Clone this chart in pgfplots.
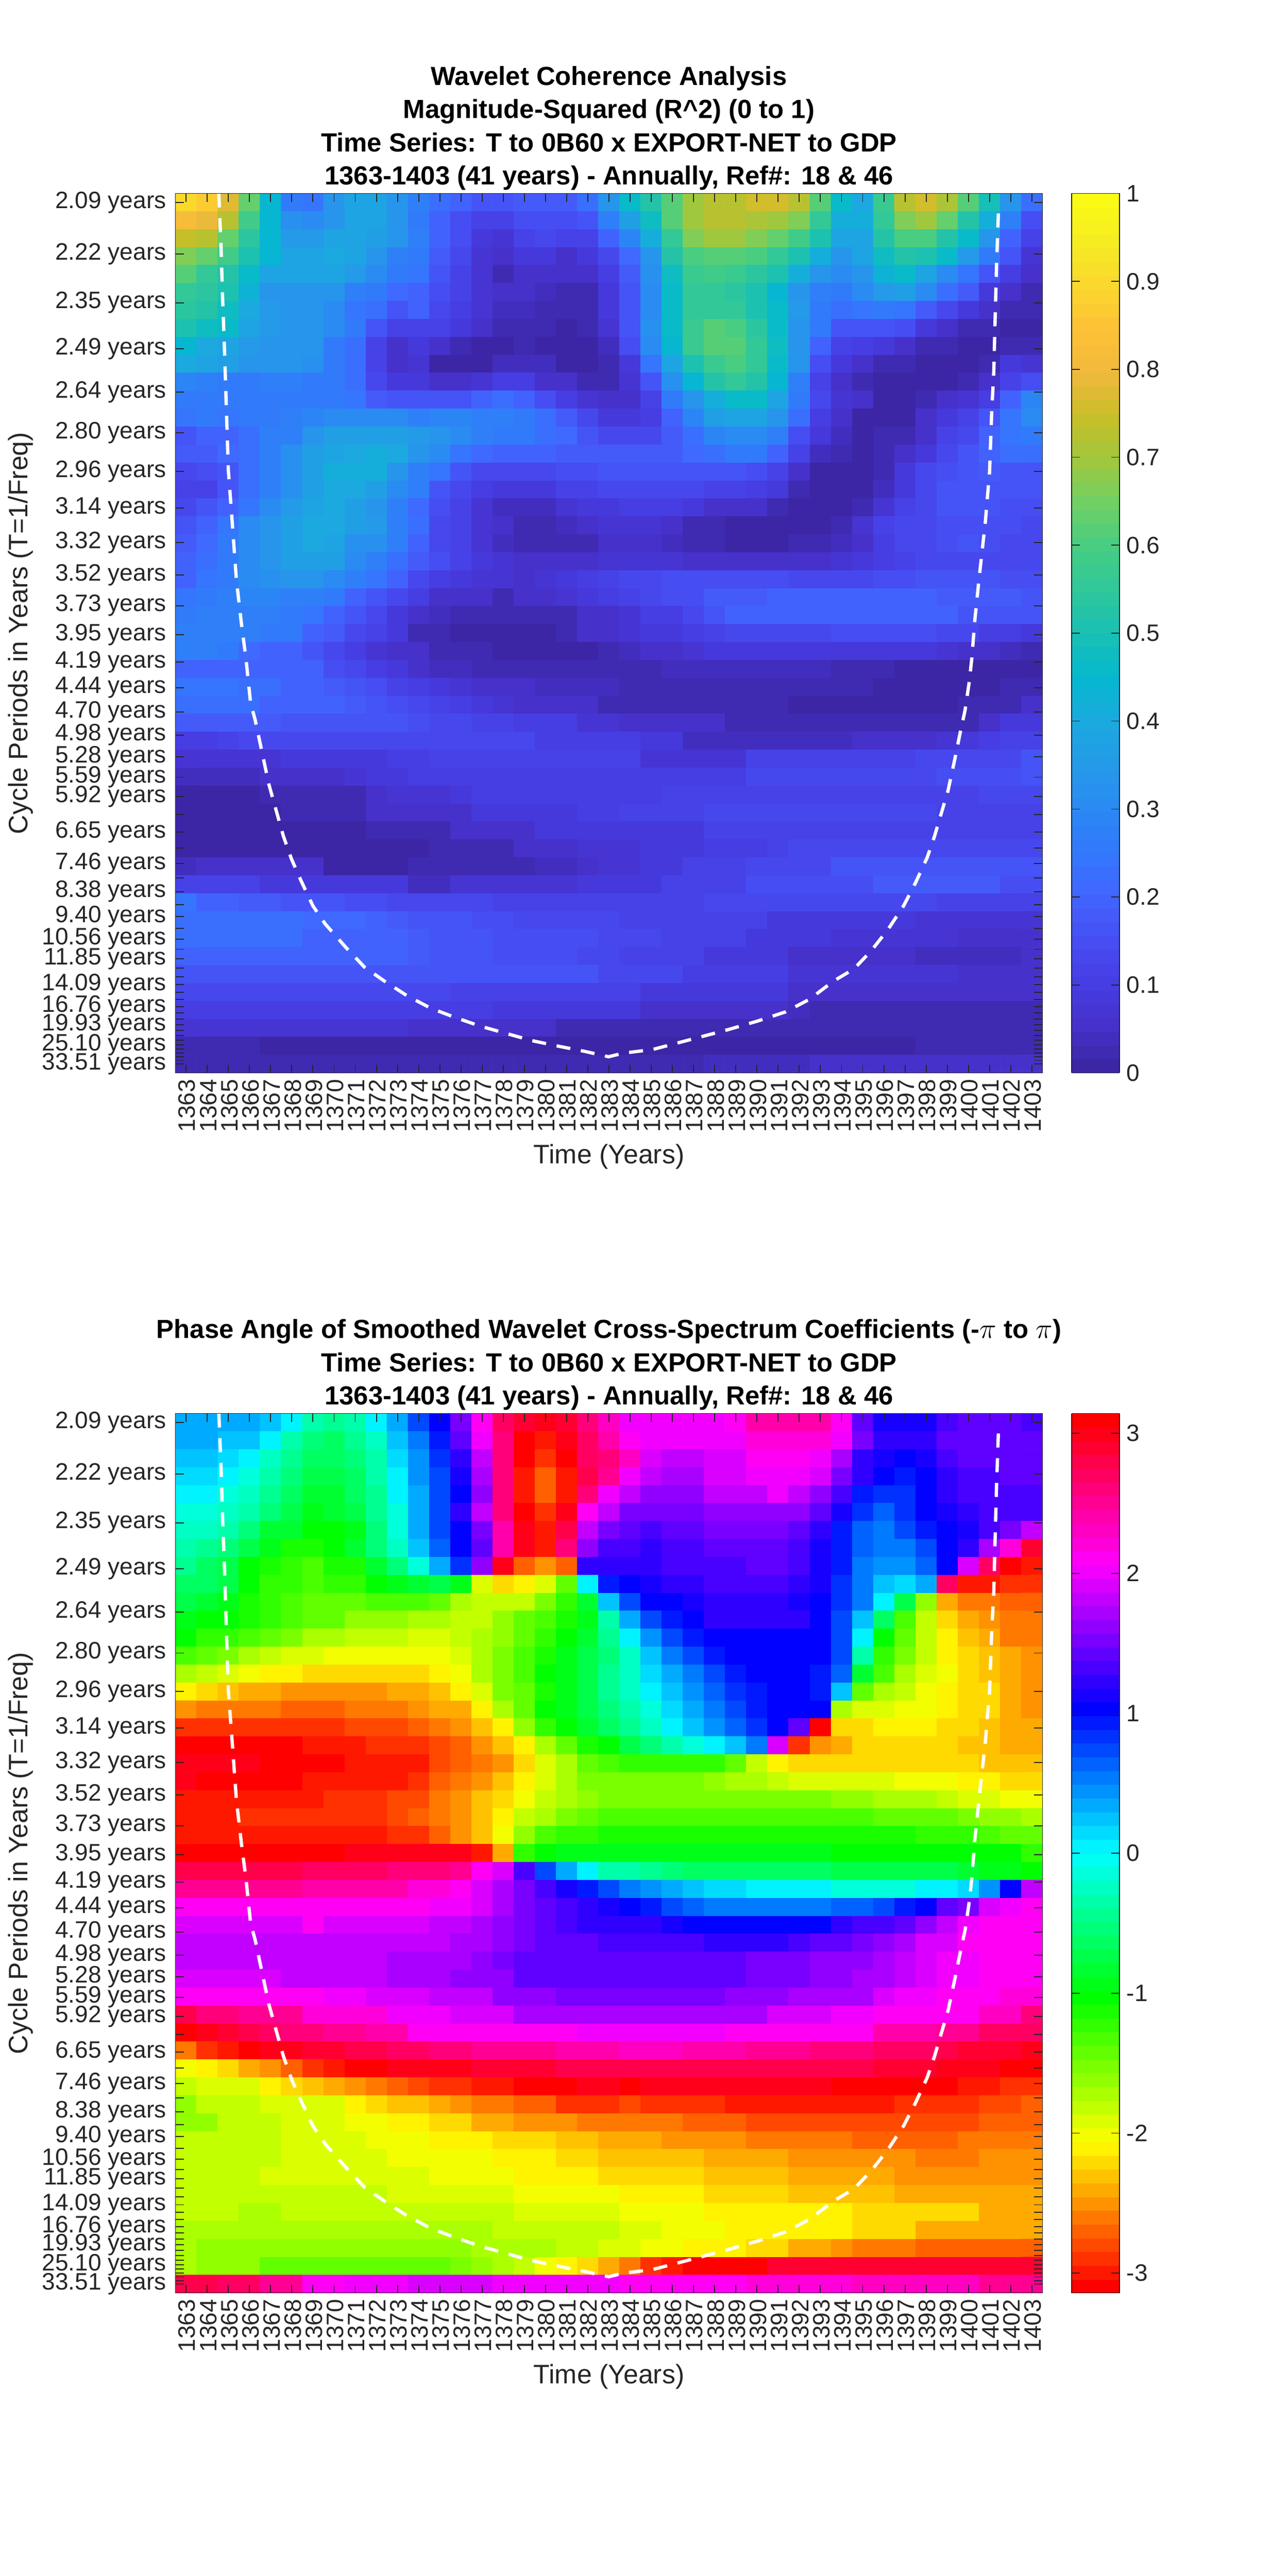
\documentclass[border=0pt]{standalone}
\usepackage{fontspec}
\setmainfont{Liberation Sans}
\usepackage{pgfplots}
\pgfplotsset{compat=1.18}
\newcount\rowno \newcount\colno
\gdef\coordlist{}
\newcommand\maprow[1]{%
  \global\colno=0 %
  \foreach \v in {#1} {%
    \ifnum\colno<41 %
      \xdef\coordlist{\coordlist (\the\colno,\the\rowno)[\mapprefix\v]}%
      \xdef\lastv{\v}%
      \global\advance\colno by 1 %
    \fi
  }%
  \loop\ifnum\colno<41 %
    \xdef\coordlist{\coordlist (\the\colno,\the\rowno)[\mapprefix\lastv]}%
    \global\advance\colno by 1 %
  \repeat
  \global\advance\rowno by 1 %
}
\def\mapprefix{0}
\global\rowno=0
\maprow{.90,.87,.77,.64,.44,.26,.24,.33,.38,.38,.34,.28,.22,.19,.17,.17,.18,.18,.18,.23,.34,.46,.53,.61,.70,.73,.73,.75,.75,.73,.62,.46,.40,.57,.73,.75,.71,.61,.49,.33,.22}
\maprow{.82,.79,.72,.59,.45,.32,.30,.33,.39,.39,.34,.26,.20,.15,.12,.12,.15,.15,.15,.16,.27,.37,.48,.62,.70,.72,.72,.71,.70,.66,.56,.42,.41,.56,.66,.69,.63,.53,.41,.28,.15}
\maprow{.74,.72,.64,.54,.45,.35,.35,.38,.39,.37,.33,.27,.20,.15,.09,.07,.11,.13,.11,.12,.20,.29,.41,.56,.66,.70,.70,.66,.63,.58,.50,.39,.39,.53,.60,.60,.53,.46,.33,.20,.12}
\maprow{.66,.64,.58,.50,.44,.38,.39,.40,.38,.33,.28,.26,.18,.14,.07,.05,.08,.09,.06,.08,.14,.21,.34,.52,.60,.62,.62,.60,.55,.51,.41,.34,.39,.48,.53,.50,.46,.35,.26,.16,.07}
\maprow{.61,.56,.53,.46,.39,.38,.38,.38,.35,.30,.26,.24,.16,.12,.07,.03,.05,.05,.05,.05,.10,.18,.32,.47,.57,.59,.57,.54,.50,.41,.34,.30,.33,.43,.46,.38,.31,.24,.16,.10,.05}
\maprow{.55,.54,.50,.43,.34,.34,.34,.33,.28,.25,.21,.20,.15,.11,.07,.05,.05,.04,.02,.03,.08,.17,.31,.46,.55,.55,.54,.50,.45,.34,.27,.25,.30,.35,.36,.31,.22,.18,.09,.05,.03}
\maprow{.54,.52,.47,.40,.35,.34,.34,.31,.24,.22,.17,.19,.14,.10,.07,.04,.04,.03,.02,.03,.08,.17,.31,.46,.55,.56,.55,.51,.46,.35,.25,.22,.24,.26,.24,.18,.14,.08,.05,.03,.02}
\maprow{.50,.47,.46,.38,.35,.34,.34,.30,.25,.17,.12,.12,.11,.09,.05,.03,.03,.02,.01,.02,.07,.17,.32,.46,.57,.62,.60,.54,.46,.33,.26,.17,.17,.17,.15,.08,.06,.03,.03,.01,.01}
\maprow{.44,.40,.39,.35,.34,.34,.33,.26,.23,.12,.05,.08,.06,.02,.01,.01,.03,.01,.01,.01,.04,.15,.31,.45,.57,.62,.62,.55,.48,.33,.20,.12,.10,.09,.06,.03,.02,.01,.01,.02,.02}
\maprow{.40,.38,.36,.34,.33,.33,.32,.26,.23,.12,.05,.07,.01,.01,.01,.04,.04,.04,.01,.01,.03,.09,.24,.39,.51,.57,.60,.56,.46,.34,.15,.09,.05,.03,.02,.01,.01,.01,.03,.08,.07}
\maprow{.29,.27,.26,.26,.27,.27,.26,.25,.22,.13,.08,.08,.06,.06,.07,.10,.10,.06,.05,.02,.02,.07,.16,.32,.45,.52,.55,.53,.45,.28,.12,.06,.02,.01,.01,.01,.01,.03,.05,.12,.15}
\maprow{.25,.25,.25,.25,.25,.26,.26,.26,.24,.18,.17,.17,.17,.17,.19,.22,.19,.15,.10,.07,.05,.05,.11,.26,.34,.42,.46,.46,.38,.26,.13,.07,.05,.01,.01,.03,.05,.07,.10,.19,.29}
\maprow{.24,.25,.24,.25,.26,.27,.29,.31,.31,.31,.30,.27,.29,.29,.28,.28,.26,.23,.18,.13,.08,.08,.10,.20,.29,.37,.38,.38,.33,.22,.10,.05,.01,.01,.01,.05,.08,.11,.17,.24,.30}
\maprow{.17,.19,.20,.22,.27,.28,.33,.36,.37,.37,.36,.35,.33,.30,.27,.26,.25,.23,.21,.17,.14,.14,.14,.18,.22,.29,.30,.30,.27,.15,.08,.04,.01,.02,.02,.06,.12,.14,.20,.24,.26}
\maprow{.18,.18,.21,.22,.27,.32,.36,.39,.40,.41,.40,.34,.30,.24,.21,.20,.19,.19,.18,.18,.18,.18,.18,.18,.21,.23,.25,.26,.20,.12,.04,.03,.01,.03,.06,.09,.13,.16,.20,.22,.23}
\maprow{.13,.15,.17,.23,.27,.32,.37,.41,.41,.41,.34,.28,.24,.17,.13,.13,.13,.13,.15,.15,.16,.17,.17,.17,.17,.17,.17,.15,.12,.06,.01,.01,.01,.03,.08,.13,.15,.17,.18,.17,.17}
\maprow{.12,.12,.16,.23,.27,.32,.37,.40,.40,.36,.30,.27,.17,.13,.10,.09,.09,.08,.12,.12,.14,.14,.14,.14,.14,.12,.11,.10,.08,.03,.01,.01,.01,.04,.09,.13,.16,.17,.17,.16,.16}
\maprow{.13,.17,.20,.24,.31,.35,.39,.40,.37,.33,.27,.21,.15,.11,.07,.04,.04,.04,.07,.08,.09,.10,.10,.10,.09,.06,.05,.05,.02,.01,.01,.01,.03,.07,.12,.14,.16,.16,.16,.15,.15}
\maprow{.16,.20,.24,.30,.34,.37,.40,.40,.37,.35,.28,.22,.14,.11,.07,.05,.03,.02,.04,.05,.07,.07,.07,.06,.03,.03,.01,.01,.01,.01,.01,.03,.07,.11,.13,.14,.15,.15,.15,.15,.14}
\maprow{.18,.21,.25,.31,.34,.37,.40,.39,.32,.32,.27,.20,.13,.11,.07,.04,.02,.02,.02,.03,.05,.06,.05,.04,.02,.02,.01,.01,.01,.03,.03,.04,.05,.10,.13,.14,.15,.16,.15,.14,.14}
\maprow{.19,.22,.25,.30,.34,.36,.36,.36,.30,.27,.23,.18,.15,.12,.08,.07,.06,.06,.06,.06,.07,.07,.07,.07,.06,.05,.05,.05,.05,.05,.05,.07,.08,.10,.12,.13,.14,.14,.14,.14,.14}
\maprow{.20,.24,.26,.31,.32,.33,.33,.31,.27,.24,.19,.13,.10,.08,.07,.07,.06,.07,.09,.10,.11,.13,.14,.15,.15,.15,.15,.15,.15,.14,.14,.14,.14,.15,.15,.16,.16,.16,.16,.15,.15}
\maprow{.24,.26,.27,.29,.29,.28,.27,.25,.20,.16,.13,.10,.06,.05,.05,.03,.05,.06,.07,.08,.10,.12,.14,.15,.15,.18,.18,.18,.20,.20,.20,.20,.20,.20,.20,.20,.18,.18,.18,.18,.17}
\maprow{.26,.27,.28,.28,.27,.25,.24,.20,.17,.14,.09,.05,.04,.02,.02,.02,.02,.02,.03,.05,.05,.07,.10,.10,.13,.17,.19,.19,.19,.19,.20,.20,.20,.20,.20,.20,.19,.17,.17,.17,.16}
\maprow{.28,.28,.28,.27,.26,.25,.20,.18,.14,.12,.08,.03,.02,.01,.01,.01,.01,.01,.02,.05,.05,.07,.09,.09,.10,.12,.13,.14,.14,.14,.14,.15,.15,.15,.15,.15,.14,.13,.10,.10,.08}
\maprow{.28,.28,.25,.21,.20,.19,.17,.13,.10,.07,.05,.05,.03,.02,.02,.01,.01,.01,.01,.01,.03,.04,.06,.06,.07,.09,.09,.09,.09,.09,.09,.09,.09,.08,.08,.08,.07,.05,.05,.04,.02}
\maprow{.20,.20,.20,.20,.20,.20,.19,.15,.13,.10,.08,.05,.04,.04,.02,.02,.02,.02,.02,.02,.02,.02,.02,.04,.04,.04,.04,.04,.04,.04,.04,.03,.03,.03,.01,.01,.01,.01,.01,.01,.01}
\maprow{.24,.24,.24,.22,.22,.19,.19,.18,.16,.15,.12,.10,.09,.07,.06,.05,.05,.04,.04,.04,.04,.02,.02,.02,.02,.02,.02,.02,.02,.02,.02,.02,.02,.01,.01,.01,.01,.01,.01,.02,.02}
\maprow{.22,.22,.22,.22,.20,.20,.19,.19,.18,.17,.15,.14,.12,.10,.09,.07,.06,.06,.05,.05,.03,.03,.03,.03,.03,.03,.02,.02,.02,.01,.01,.01,.01,.01,.01,.01,.01,.02,.02,.03,.05}
\maprow{.18,.18,.18,.18,.18,.17,.17,.17,.16,.16,.16,.15,.13,.13,.11,.11,.10,.10,.10,.07,.07,.06,.05,.05,.05,.05,.03,.03,.03,.03,.03,.03,.03,.03,.03,.03,.03,.03,.06,.08,.09}
\maprow{.10,.10,.12,.13,.14,.14,.14,.14,.14,.14,.14,.14,.14,.13,.13,.13,.13,.10,.10,.10,.10,.10,.09,.08,.04,.04,.04,.04,.04,.04,.04,.04,.06,.06,.06,.06,.07,.09,.10,.12,.12}
\maprow{.07,.07,.07,.07,.07,.08,.08,.08,.08,.09,.10,.10,.11,.11,.11,.11,.11,.11,.11,.11,.11,.11,.07,.07,.07,.07,.07,.11,.11,.11,.11,.11,.11,.12,.12,.13,.13,.13,.13,.14,.16}
\maprow{.04,.04,.04,.04,.05,.05,.05,.05,.07,.09,.09,.10,.10,.10,.10,.10,.10,.10,.10,.10,.10,.10,.10,.10,.10,.10,.10,.13,.13,.13,.13,.13,.13,.13,.13,.13,.15,.15,.15,.15,.17}
\maprow{.01,.01,.01,.01,.02,.03,.03,.03,.03,.06,.07,.07,.07,.08,.10,.10,.10,.10,.10,.10,.10,.10,.10,.12,.12,.12,.12,.12,.12,.12,.12,.12,.12,.12,.12,.12,.12,.12,.13,.13,.13}
\maprow{.01,.01,.01,.01,.01,.02,.02,.02,.02,.05,.05,.05,.05,.05,.09,.09,.09,.09,.09,.10,.10,.11,.11,.11,.11,.13,.13,.13,.13,.13,.13,.13,.13,.13,.13,.13,.12,.12,.12,.12,.12}
\maprow{.01,.01,.01,.01,.01,.01,.01,.01,.01,.03,.03,.03,.03,.06,.06,.06,.06,.08,.08,.09,.09,.09,.09,.09,.09,.11,.11,.12,.12,.12,.12,.12,.12,.12,.12,.12,.12,.12,.12,.12,.12}
\maprow{.01,.01,.01,.01,.01,.01,.01,.01,.01,.01,.01,.01,.03,.03,.03,.03,.05,.05,.05,.07,.07,.07,.08,.08,.08,.10,.10,.10,.11,.14,.14,.14,.14,.14,.14,.14,.14,.14,.14,.14,.14}
\maprow{.04,.06,.06,.05,.05,.05,.05,.01,.01,.01,.01,.03,.03,.03,.03,.03,.03,.04,.04,.05,.07,.07,.09,.09,.11,.11,.11,.14,.14,.14,.14,.16,.16,.16,.16,.16,.16,.16,.16,.16,.16}
\maprow{.12,.12,.11,.11,.09,.09,.08,.08,.08,.08,.08,.04,.04,.07,.07,.07,.07,.07,.07,.09,.09,.09,.09,.12,.12,.12,.12,.15,.15,.15,.15,.15,.15,.18,.18,.18,.18,.18,.18,.15,.15}
\maprow{.24,.19,.19,.18,.18,.17,.16,.16,.15,.15,.14,.13,.13,.13,.13,.12,.11,.11,.11,.11,.11,.11,.11,.11,.11,.13,.13,.13,.13,.13,.13,.13,.13,.13,.13,.13,.12,.11,.11,.11,.11}
\maprow{.22,.22,.22,.22,.22,.22,.21,.21,.21,.19,.18,.17,.17,.16,.15,.15,.14,.13,.13,.13,.13,.11,.11,.11,.11,.11,.11,.11,.09,.09,.09,.09,.09,.09,.09,.07,.07,.07,.07,.07,.07}
\maprow{.22,.22,.23,.23,.23,.23,.20,.20,.20,.20,.19,.18,.17,.17,.17,.15,.15,.15,.15,.15,.13,.13,.13,.11,.11,.11,.11,.09,.09,.09,.09,.07,.07,.07,.07,.07,.07,.05,.05,.05,.05}
\maprow{.19,.19,.19,.19,.19,.19,.19,.19,.19,.19,.19,.18,.17,.16,.16,.15,.15,.15,.15,.14,.14,.12,.12,.12,.12,.09,.09,.09,.09,.06,.06,.06,.06,.06,.06,.04,.04,.04,.04,.04,.05}
\maprow{.17,.17,.17,.17,.17,.17,.17,.17,.17,.17,.17,.17,.17,.17,.17,.17,.17,.16,.16,.16,.13,.13,.13,.13,.10,.10,.10,.10,.10,.07,.07,.07,.07,.07,.07,.07,.07,.05,.05,.05,.05}
\maprow{.13,.13,.13,.13,.13,.13,.13,.13,.13,.13,.13,.13,.13,.11,.11,.11,.11,.11,.11,.11,.11,.11,.09,.08,.08,.08,.08,.08,.08,.05,.05,.05,.05,.05,.05,.05,.05,.05,.05,.05,.05}
\maprow{.10,.10,.10,.10,.10,.10,.10,.10,.10,.10,.10,.10,.10,.10,.10,.09,.08,.08,.08,.08,.08,.08,.05,.05,.05,.05,.05,.05,.05,.04,.03,.03,.03,.03,.03,.03,.03,.03,.03,.03,.03}
\maprow{.07,.07,.07,.07,.07,.07,.07,.07,.07,.07,.07,.05,.05,.05,.05,.05,.05,.05,.03,.02,.02,.02,.02,.02,.02,.02,.02,.02,.02,.02,.02,.02,.02,.02,.02,.02,.02,.02,.02,.02,.02}
\maprow{.03,.03,.03,.03,.01,.01,.01,.01,.01,.01,.01,.01,.01,.01,.01,.01,.01,.01,.01,.01,.01,.01,.01,.01,.01,.01,.01,.01,.01,.01,.01,.01,.01,.01,.01,.02,.02,.02,.02,.02,.02}
\maprow{.02,.02,.02,.02,.02,.02,.02,.02,.02,.02,.02,.02,.02,.02,.02,.02,.02,.02,.02,.03,.03,.03,.03,.03,.03,.04,.04,.04,.04,.04,.05,.05,.05,.05,.05,.05,.06,.06,.06,.06,.06}
\global\let\coordA\coordlist
\gdef\coordlist{}
\def\mapprefix{}
\global\rowno=0
\maprow{.3,.3,.3,.3,.2,0,-.3,-.4,-.3,0,.3,.7,1.05,1.5,2.1,2.7,2.9,3,2.9,2.6,2.3,2,2,2,2,2,2.1,2.4,2.4,2.4,2.4,2.1,1.4,1.1,1.1,1.1,1.3,1.4,1.4,1.4,1.3}
\maprow{.3,.3,.2,.2,0,-.3,-.5,-.6,-.4,-.2,.2,.5,.9,1.4,2,2.6,3.1,-3,3,2.7,2.4,2.1,2,2,2,2,2,2.2,2.2,2.2,2.2,2,1.5,1.2,1.2,1.2,1.4,1.4,1.4,1.4,1.4}
\maprow{.2,.2,.1,0,-.2,-.4,-.6,-.6,-.5,-.3,.1,.4,.8,1.2,1.8,2.6,3.1,-2.9,3.1,2.7,2.6,2.3,1.9,1.8,1.8,1.9,1.9,2.1,2.1,2.1,2,1.7,1.2,1.1,1,1.1,1.3,1.4,1.4,1.4,1.4}
\maprow{.1,.1,0,-.1,-.3,-.5,-.7,-.7,-.6,-.3,0,.4,.7,1.1,1.7,2.6,-3,-2.7,-3,2.8,2.5,2,1.8,1.7,1.7,1.9,1.9,2,2,2,1.9,1.5,1.2,1,.9,1,1.2,1.3,1.3,1.4,1.4}
\maprow{0,0,-.1,-.2,-.4,-.6,-.8,-.8,-.6,-.4,0,.3,.7,1,1.6,2.6,-3,-2.7,-3,2.6,2,1.8,1.6,1.6,1.6,1.8,1.8,1.8,2,1.8,1.6,1.3,.9,.8,.8,1,1.2,1.3,1.3,1.3,1.3}
\maprow{-.1,-.1,-.2,-.3,-.5,-.7,-.9,-.8,-.7,-.4,-.1,.3,.7,1.2,1.8,2.6,3.1,-2.9,3,2.1,1.8,1.5,1.5,1.5,1.5,1.6,1.6,1.6,1.6,1.6,1.4,1.1,.8,.6,.8,1,1.1,1.2,1.3,1.3,1.3}
\maprow{-.2,-.2,-.3,-.5,-.8,-.8,-1,-1,-.9,-.5,-.1,.3,.7,1,1.5,2.4,3,-3,2.8,1.8,1.5,1.4,1.3,1.4,1.4,1.5,1.5,1.5,1.5,1.4,1.2,.9,.6,.5,.7,.9,1,1.1,1.3,1.5,1.8}
\maprow{-.3,-.4,-.5,-.7,-.9,-1.1,-1.1,-1,-.8,-.5,-.2,.2,.6,1,1.4,2.4,3,-3,2.6,1.6,1.3,1.3,1.2,1.3,1.3,1.4,1.4,1.4,1.4,1.3,1.1,.9,.6,.5,.5,.7,1,1.2,1.7,2.2,2.9}
\maprow{-.4,-.6,-.7,-1,-1.1,-1.2,-1.3,-1.1,-1.1,-.8,-.5,-.1,.3,.8,1.6,3,-2.7,-2.5,-2.7,1.2,1.2,1.2,1.2,1.3,1.3,1.3,1.3,1.4,1.4,1.3,1.1,.9,.5,.4,.4,.6,1,1.9,2.7,3.1,-3}
\maprow{-.6,-.6,-.7,-1,-1.2,-1.2,-1.3,-1.2,-1.2,-1,-.9,-.8,-.7,-.9,-1.9,-2.2,-2.1,-1.9,-1.4,0,.9,1,1.1,1.2,1.2,1.3,1.3,1.3,1.3,1.2,1.1,.8,.5,.2,.1,.3,2.7,-3,-3,-2.9,-2.9}
\maprow{-.7,-.8,-.9,-1.1,-1.2,-1.3,-1.4,-1.4,-1.4,-1.3,-1.3,-1.3,-1.4,-1.7,-1.8,-1.8,-1.8,-1.5,-1.2,-.8,.2,.7,1,1,1.1,1.2,1.2,1.2,1.2,1.1,1,.8,.5,0,-.7,-1.6,-2.4,-2.6,-2.6,-2.7,-2.7}
\maprow{-.9,-1,-1,-1.1,-1.2,-1.3,-1.4,-1.4,-1.6,-1.6,-1.6,-1.7,-1.7,-1.8,-1.8,-1.6,-1.4,-1.3,-1.1,-.9,-.3,.3,.7,.9,1,1.2,1.2,1.2,1.2,1.2,1,.7,.2,-.6,-1.3,-1.8,-2.2,-2.4,-2.5,-2.6,-2.6}
\maprow{-1,-1.2,-1.2,-1.3,-1.4,-1.5,-1.7,-1.7,-1.8,-1.8,-1.8,-1.9,-1.9,-1.8,-1.7,-1.6,-1.4,-1.2,-1,-.8,-.4,0,.4,.7,.9,1,1,1,1,1,1,.7,0,-1,-1.4,-1.8,-2.1,-2.3,-2.4,-2.6,-2.6}
\maprow{-1.3,-1.4,-1.5,-1.7,-1.8,-1.9,-1.9,-2,-2,-2,-2,-2,-2,-1.9,-1.7,-1.5,-1.3,-1.1,-.9,-.7,-.5,-.2,.2,.5,.7,.9,1,1,1,1,1,.7,-.3,-1.2,-1.5,-1.8,-2.1,-2.2,-2.3,-2.4,-2.5}
\maprow{-1.7,-1.8,-1.9,-2,-2.1,-2.1,-2.2,-2.2,-2.2,-2.2,-2.2,-2.2,-2.1,-2,-1.7,-1.5,-1.3,-1,-.9,-.7,-.4,-.2,.1,.3,.5,.7,.9,1,1,1,.9,.6,-.8,-1.3,-1.7,-1.9,-2,-2.2,-2.3,-2.4,-2.5}
\maprow{-2.1,-2.2,-2.3,-2.4,-2.4,-2.5,-2.5,-2.5,-2.5,-2.5,-2.4,-2.4,-2.3,-2.1,-1.9,-1.5,-1.4,-1.1,-.9,-.7,-.4,-.2,0,.2,.4,.6,.8,.9,1,1,.9,.2,-1.4,-1.7,-1.8,-2,-2.1,-2.2,-2.2,-2.4,-2.5}
\maprow{-2.5,-2.6,-2.6,-2.6,-2.6,-2.7,-2.7,-2.7,-2.6,-2.6,-2.6,-2.5,-2.4,-2.4,-2.1,-1.7,-1.4,-1,-.9,-.7,-.5,-.3,-.1,.1,.3,.5,.7,.9,1,1,1,-1.7,-1.9,-1.9,-2,-2,-2.1,-2.2,-2.2,-2.4,-2.5}
\maprow{-2.9,-2.9,-2.9,-2.9,-2.9,-2.9,-2.9,-2.9,-2.8,-2.8,-2.8,-2.7,-2.6,-2.5,-2.3,-2.1,-1.6,-1.2,-1,-.8,-.6,-.4,-.2,0,.2,.4,.6,.8,1,1.4,3.1,-2.2,-2.2,-2.1,-2.1,-2.1,-2.2,-2.2,-2.3,-2.4,-2.4}
\maprow{3.1,3.1,3.1,3.1,3.1,3.1,-3,-3,-3,-2.9,-2.9,-2.9,-2.8,-2.7,-2.5,-2.3,-2.1,-1.7,-1.4,-1.1,-1,-.7,-.5,-.3,-.1,0,.2,.5,1.9,-2.9,-2.5,-2.4,-2.2,-2.2,-2.2,-2.2,-2.2,-2.3,-2.3,-2.4,-2.4}
\maprow{3,3,3,3,3.1,3.1,3.1,3.1,-3,-3,-3,-3,-2.8,-2.7,-2.6,-2.5,-2.2,-1.9,-1.7,-1.4,-1.3,-1.2,-1.2,-1.2,-1.2,-1.2,-1.4,-1.8,-2.1,-2.2,-2.2,-2.2,-2.2,-2.2,-2.2,-2.2,-2.2,-2.2,-2.3,-2.3,-2.3}
\maprow{3,3.1,3.1,3.1,3.1,3.1,-3,-3,-3,-3,-3,-2.9,-2.7,-2.6,-2.5,-2.3,-2.1,-1.9,-1.7,-1.5,-1.5,-1.5,-1.5,-1.5,-1.5,-1.6,-1.7,-1.7,-1.8,-1.9,-1.9,-1.9,-1.9,-1.9,-2,-2,-2,-2.1,-2.1,-2.2,-2.2}
\maprow{-3,-3,-3,-3,-3,-3,-3,-2.9,-2.9,-2.9,-2.8,-2.8,-2.6,-2.5,-2.3,-2.2,-2,-1.8,-1.7,-1.6,-1.5,-1.5,-1.5,-1.5,-1.5,-1.5,-1.5,-1.5,-1.5,-1.5,-1.5,-1.6,-1.6,-1.7,-1.7,-1.7,-1.8,-1.9,-1.9,-2,-2}
\maprow{-3,-3,-3,-2.9,-2.9,-2.9,-2.9,-2.9,-2.9,-2.9,-2.8,-2.7,-2.6,-2.5,-2.3,-2.1,-1.8,-1.7,-1.5,-1.4,-1.3,-1.3,-1.3,-1.3,-1.3,-1.3,-1.3,-1.3,-1.3,-1.3,-1.3,-1.3,-1.3,-1.4,-1.4,-1.4,-1.4,-1.5,-1.6,-1.6,-1.7}
\maprow{-3,-3,-3,-3,-3,-3,-3,-3,-3,-3,-2.9,-2.9,-2.7,-2.5,-2.3,-2,-1.6,-1.3,-1.2,-1.2,-1.1,-1.1,-1.1,-1.1,-1.1,-1.1,-1.1,-1.1,-1.1,-1.1,-1.1,-1.1,-1.1,-1.1,-1.1,-1.2,-1.2,-1.2,-1.3,-1.4,-1.4}
\maprow{3.1,3.1,3.1,3.1,3.1,3.1,3.1,3.1,3,3,3,3,3,3,-3,-2.4,-1.2,-1,-.9,-.9,-.9,-.9,-.9,-.9,-.9,-.9,-.9,-.9,-.9,-.9,-.9,-1,-1,-1,-1,-1,-1,-1,-1,-1,-1.2}
\maprow{2.8,2.8,2.8,2.8,2.8,2.8,2.7,2.7,2.7,2.7,2.6,2.6,2.6,2.5,2.1,1.9,1.3,.7,.3,0,-.3,-.3,-.4,-.5,-.6,-.6,-.6,-.6,-.6,-.6,-.6,-.7,-.7,-.7,-.7,-.7,-.7,-.8,-.9,-.9,-1}
\maprow{2.5,2.5,2.5,2.5,2.5,2.5,2.4,2.4,2.4,2.4,2.4,2.2,2.2,2.1,1.9,1.7,1.5,1.3,1.1,.9,.7,.5,.4,.3,.2,.1,.1,0,0,0,0,-.1,-.1,-.1,-.1,0,0,.1,.4,1,1.8}
\maprow{2.1,2.1,2.1,2.1,2.1,2.1,2.1,2.1,2.1,2.1,2.1,2.1,2,2,1.9,1.7,1.5,1.4,1.3,1.2,1.1,1,.9,.7,.6,.5,.5,.5,.5,.5,.5,.6,.6,.7,.9,1,1.4,1.5,1.9,2,2.1}
\maprow{1.9,1.9,1.9,1.9,1.9,1.9,2.1,1.9,1.9,1.9,1.9,1.9,1.8,1.8,1.7,1.6,1.5,1.4,1.3,1.2,1.2,1.2,1.2,1.1,1,1,1,1,1,1,1,1.2,1.3,1.3,1.4,1.6,1.8,2,2.1,2.1,2.1}
\maprow{1.8,1.8,1.8,1.8,1.8,1.8,1.8,1.8,1.8,1.8,1.8,1.8,1.8,1.7,1.7,1.6,1.5,1.4,1.4,1.4,1.3,1.3,1.3,1.3,1.3,1.2,1.2,1.2,1.2,1.3,1.4,1.4,1.5,1.6,1.7,1.9,1.9,2.1,2.1,2.1,2.1}
\maprow{1.8,1.8,1.8,1.8,1.8,1.8,1.8,1.8,1.8,1.8,1.7,1.7,1.7,1.7,1.6,1.5,1.4,1.4,1.4,1.4,1.4,1.4,1.4,1.4,1.4,1.4,1.4,1.5,1.5,1.5,1.6,1.6,1.6,1.7,1.8,1.9,2,2,2.1,2.1,2.1}
\maprow{1.9,1.9,1.9,1.9,1.9,1.8,1.8,1.8,1.8,1.8,1.7,1.7,1.7,1.6,1.6,1.6,1.4,1.4,1.4,1.4,1.4,1.4,1.4,1.4,1.4,1.4,1.4,1.5,1.5,1.5,1.6,1.6,1.7,1.7,1.8,1.9,2,2,2.1,2.1,2.1}
\maprow{2.1,2.1,2.1,2.1,2.1,2.1,2.1,2,2,1.9,1.9,1.9,1.8,1.8,1.8,1.6,1.6,1.6,1.5,1.5,1.5,1.5,1.5,1.5,1.5,1.5,1.6,1.6,1.6,1.7,1.7,1.7,1.7,1.9,2,2,2.1,2.1,2.1,2.2,2.2}
\maprow{2.8,2.6,2.6,2.5,2.5,2.5,2.2,2.2,2.2,2.2,2,2,2,1.9,1.9,1.9,1.7,1.7,1.7,1.7,1.7,1.7,1.7,1.7,1.7,1.7,1.7,1.7,1.9,1.9,1.9,2,2,2.1,2.1,2.1,2.1,2.1,2.3,2.3,2.6}
\maprow{3.1,3,2.9,2.8,2.7,2.6,2.6,2.5,2.5,2.4,2.4,2.1,2.1,2.1,2.1,2.1,2.1,2.1,2.1,2,2,2,2,2,2,2,2.1,2.1,2.1,2.1,2.1,2.1,2.1,2.4,2.4,2.4,2.5,2.5,2.7,2.7,2.7}
\maprow{-2.6,-2.9,-3,-3.1,3,3,2.9,2.9,2.8,2.8,2.7,2.7,2.6,2.6,2.5,2.5,2.5,2.5,2.4,2.4,2.4,2.3,2.3,2.3,2.4,2.4,2.4,2.5,2.5,2.5,2.6,2.6,2.6,2.7,2.7,2.7,2.8,2.9,2.9,2.9,3}
\maprow{-2,-2.1,-2.2,-2.4,-2.5,-2.7,-2.9,-3,-3.1,3.1,3,3,3,3,2.9,2.9,2.9,2.9,2.8,2.8,2.8,2.8,2.8,2.8,2.8,2.8,2.8,2.8,2.8,2.8,2.8,2.8,2.8,2.9,2.9,2.9,3,3,3,3.1,3.1}
\maprow{-1.8,-1.9,-1.9,-1.9,-2.1,-2.2,-2.3,-2.4,-2.5,-2.6,-2.7,-2.8,-2.9,-2.9,-3,-3,-3.1,-3.1,-3.1,3,3,3.1,3,3,3,3,3,3,3,3,3,3.1,3.1,3.1,3.1,-3.1,-3.1,-3,-3,-2.9,-2.9}
\maprow{-1.6,-1.8,-1.8,-1.8,-1.9,-1.9,-1.9,-1.9,-2.1,-2.2,-2.3,-2.3,-2.4,-2.5,-2.6,-2.6,-2.7,-2.7,-2.9,-2.9,-2.9,-2.8,-2.9,-2.9,-2.9,-2.9,-3,-3,-3,-3,-3,-3,-3,-3,-2.9,-2.9,-2.9,-2.9,-2.8,-2.8,-2.7}
\maprow{-1.6,-1.6,-1.8,-1.8,-1.8,-1.9,-1.9,-1.9,-2,-2,-2.1,-2.1,-2.2,-2.2,-2.4,-2.4,-2.5,-2.5,-2.5,-2.6,-2.6,-2.6,-2.6,-2.6,-2.7,-2.7,-2.7,-2.8,-2.8,-2.8,-2.8,-2.8,-2.8,-2.8,-2.8,-2.8,-2.8,-2.8,-2.7,-2.7,-2.7}
\maprow{-1.8,-1.8,-1.8,-1.8,-1.8,-1.9,-1.9,-1.9,-1.9,-2,-2,-2,-2.1,-2.1,-2.1,-2.2,-2.2,-2.2,-2.3,-2.3,-2.4,-2.4,-2.4,-2.5,-2.5,-2.5,-2.5,-2.6,-2.6,-2.6,-2.6,-2.6,-2.7,-2.7,-2.7,-2.7,-2.7,-2.6,-2.6,-2.6,-2.6}
\maprow{-1.8,-1.8,-1.8,-1.8,-1.8,-1.9,-1.9,-1.9,-1.9,-1.9,-2,-2,-2,-2,-2,-2.1,-2.1,-2.1,-2.2,-2.2,-2.3,-2.3,-2.3,-2.3,-2.3,-2.4,-2.4,-2.4,-2.4,-2.5,-2.5,-2.5,-2.5,-2.5,-2.5,-2.6,-2.6,-2.6,-2.5,-2.5,-2.5}
\maprow{-1.8,-1.8,-1.8,-1.8,-1.9,-1.9,-1.9,-1.9,-1.9,-1.9,-1.9,-1.9,-2,-2,-2,-2,-2.1,-2.1,-2.1,-2.1,-2.2,-2.2,-2.2,-2.2,-2.2,-2.3,-2.3,-2.3,-2.3,-2.4,-2.4,-2.4,-2.4,-2.4,-2.5,-2.5,-2.5,-2.5,-2.5,-2.5,-2.5}
\maprow{-1.8,-1.8,-1.8,-1.8,-1.8,-1.8,-1.8,-1.8,-1.8,-1.8,-1.9,-1.9,-1.9,-1.9,-1.9,-1.9,-2,-2,-2,-2,-2,-2.1,-2.1,-2.1,-2.1,-2.2,-2.2,-2.2,-2.2,-2.3,-2.3,-2.3,-2.3,-2.3,-2.4,-2.4,-2.4,-2.4,-2.4,-2.4,-2.4}
\maprow{-1.8,-1.8,-1.8,-1.7,-1.7,-1.8,-1.8,-1.8,-1.8,-1.8,-1.8,-1.8,-1.8,-1.8,-1.8,-1.8,-1.9,-1.9,-1.9,-1.9,-1.9,-2,-2,-2,-2,-2.1,-2.1,-2.1,-2.1,-2.1,-2.1,-2.1,-2.2,-2.2,-2.2,-2.2,-2.2,-2.2,-2.4,-2.4,-2.4}
\maprow{-1.7,-1.7,-1.7,-1.7,-1.7,-1.7,-1.7,-1.7,-1.7,-1.7,-1.7,-1.7,-1.7,-1.7,-1.7,-1.8,-1.8,-1.8,-1.8,-1.8,-1.8,-1.9,-1.9,-2,-2,-2,-2.1,-2.1,-2.1,-2.1,-2.1,-2.1,-2.2,-2.2,-2.2,-2.4,-2.4,-2.4,-2.4,-2.4,-2.4}
\maprow{-1.7,-1.6,-1.6,-1.6,-1.6,-1.6,-1.6,-1.6,-1.6,-1.6,-1.6,-1.6,-1.6,-1.6,-1.7,-1.7,-1.7,-1.7,-1.8,-1.8,-1.9,-1.9,-2,-2,-2.1,-2.1,-2.1,-2.2,-2.2,-2.4,-2.4,-2.5,-2.6,-2.6,-2.6,-2.7,-2.7,-2.7,-2.7,-2.7,-2.7}
\maprow{-1.7,-1.6,-1.6,-1.6,-1.4,-1.4,-1.4,-1.4,-1.4,-1.4,-1.4,-1.4,-1.4,-1.5,-1.6,-1.7,-1.8,-2,-2.1,-2.2,-2.4,-2.6,-2.9,-3,-3.1,-3.1,3.1,3.1,2.9,2.9,2.9,2.9,2.9,2.9,2.9,2.9,2.9,2.9,2.9,2.9,2.9}
\maprow{2.8,2.8,2.7,2.7,2.5,2.5,2.1,2.1,2,2,2,1.9,1.9,1.9,1.9,2,2,2,2,2,2,2.1,2.1,2.1,2.1,2.1,2.1,2.2,2.2,2.2,2.2,2.2,2.3,2.3,2.3,2.3,2.3,2.3,2.5,2.5,2.5}
\global\let\coordB\coordlist
\pgfplotsset{
  colormap={paruold}{rgb255=(60,38,165) rgb255=(70,50,205) rgb255=(70,62,228) rgb255=(70,80,245) rgb255=(65,102,255) rgb255=(50,122,252) rgb255=(42,138,242) rgb255=(36,154,232) rgb255=(26,170,222) rgb255=(5,184,207) rgb255=(25,192,180) rgb255=(48,199,155) rgb255=(70,205,130) rgb255=(112,208,100) rgb255=(160,200,62) rgb255=(200,190,40) rgb255=(240,185,60) rgb255=(254,192,55) rgb255=(250,215,45) rgb255=(245,235,35) rgb255=(250,250,20)},
  colormap={parstep}{samples of colormap=(64 of paruold)},
  colormap={hsvbase}{rgb255=(255,0,0) rgb255=(255,255,0) rgb255=(0,255,0) rgb255=(0,255,255) rgb255=(0,0,255) rgb255=(255,0,255) rgb255=(255,0,0)},
  colormap={hsvstep}{samples of colormap=(64 of hsvbase)},
}
\definecolor{dk}{gray}{0.15}
\pgfplotsset{
  wave/.style={
    scale only axis, width=526pt, height=533.6pt,
    xmin=-0.5, xmax=40.5, ymin=-0.5, ymax=48.5, y dir=reverse,
    axis on top, enlargelimits=false,
    tick align=inside, major tick length=5pt,
    every tick/.style={draw=dk, line width=0.6pt},
    axis line style={draw=dk, line width=0.5pt},
    font=\fontsize{14.4pt}{16pt}\selectfont,
    xtick={0,...,40},
    xticklabels={1363,1364,1365,1366,1367,1368,1369,1370,1371,1372,1373,1374,1375,1376,1377,1378,1379,1380,1381,1382,1383,1384,1385,1386,1387,1388,1389,1390,1391,1392,1393,1394,1395,1396,1397,1398,1399,1400,1401,1402,1403},
    ytick={0,2.874,5.586,8.146,10.563,12.844,14.996,17.028,18.946,20.756,22.465,24.078,25.6,27.037,28.393,29.673,30.882,32.022,33.098,34.114,35.073,35.978,36.833,37.639,38.4,39.119,39.797,40.437,41.041,41.611,42.149,42.657,43.137,43.589,44.016,44.42,44.8,45.159,45.498,45.818,46.12,46.406,46.675,46.928,47.168,47.395,47.608,47.81,48},
    yticklabels={2.09 years,2.22 years,2.35 years,2.49 years,2.64 years,2.80 years,2.96 years,3.14 years,3.32 years,3.52 years,3.73 years,3.95 years,4.19 years,4.44 years,4.70 years,4.98 years,5.28 years,5.59 years,5.92 years,{},6.65 years,{},7.46 years,{},8.38 years,{},9.40 years,{},10.56 years,{},11.85 years,{},{},14.09 years,{},{},16.76 years,{},{},19.93 years,{},{},{},25.10 years,{},{},{},{},33.51 years},
    x tick label style={rotate=90, anchor=east, inner sep=0pt, xshift=-3.7pt, yshift=-0.6pt, text=dk, font=\fontsize{14.4pt}{16pt}\selectfont},
    y tick label style={inner sep=0pt, xshift=-5.5pt, text=dk, font=\fontsize{14.4pt}{16pt}\selectfont},
    xlabel={Time (Years)},
    ylabel={Cycle Periods in Years (T=1/Freq)},
    xlabel style={at={(axis description cs:0.5,-0.0951)}, anchor=center, inner sep=0pt, text=dk, font=\fontsize{16.2pt}{18pt}\selectfont},
    ylabel style={at={(axis description cs:-0.1787,0.5)}, anchor=center, inner sep=0pt, text=dk, font=\fontsize{16.2pt}{18pt}\selectfont},
    title style={at={(axis description cs:0.5,1)}, anchor=south, inner sep=0pt, yshift=-4.3pt, align=center, text=black, font=\fontsize{15.9pt}{20.2pt}\selectfont\bfseries},
    colormap access=piecewise constant,
    colorbar sampled,
  },
  cbar/.style={
    at={(1.03375,0)}, anchor=south west, scale only axis, width=29.1pt, height=533.6pt,
    samples=65,
    tick align=inside, major tick length=5pt,
    every tick/.style={draw=dk, line width=0.5pt},
    axis line style={draw=dk, line width=0.5pt},
    y tick label style={inner sep=0pt, xshift=4pt, text=dk, font=\fontsize{14.4pt}{16pt}\selectfont},
  },
  coi/.style={white, line width=2pt, dash pattern=on 8.5pt off 6.5pt},
}
\def\coiA{(1.55,-.5) (1.65,2.39) (1.73,5.44) (1.83,8.67) (1.91,11.72) (2,14.95) (2.18,17.8) (2.38,21.04) (2.62,23.5) (2.83,25.4) (3.05,27.9) (3.26,28.8) (3.64,30.9) (3.91,32.4) (4.23,33.75) (4.6,35.3) (4.99,36.6) (5.44,37.8) (6,39.2) (6.58,40.2) (7.55,41.5) (8.43,42.6) (9.4,43.4) (10.45,44.2) (11.58,44.9) (12.7,45.4) (13.93,45.9) (15.14,46.3) (16.35,46.7) (17.56,47) (18.85,47.3) (19.98,47.6) (20.67,47.4) (22.05,47.2) (23.67,46.7) (25.6,46.1) (27.06,45.6) (28.35,45.1) (29.48,44.4) (30.6,43.4) (31.59,42.7) (32.4,41.7) (33.2,40.5) (33.93,39.2) (34.5,37.9) (35.05,36.5) (35.4,35.3) (35.7,34.1) (36.03,32.8) (36.36,31) (36.6,29.6) (36.84,28.3) (37.04,26.7) (37.16,25.4) (37.3,23.3) (37.5,21) (37.8,17.8) (38,15) (38.1,11.7) (38.2,9.4) (38.26,6.6) (38.33,3.5) (38.43,.15)}
\begin{document}
\begin{tikzpicture}
\useasboundingbox (0,0) rectangle (781.25pt,1563pt);
\begin{axis}[wave, at={(106.5pt,912pt)}, anchor=south west,
  colormap name=parstep, point meta min=0, point meta max=1,
  colorbar style={cbar, ytick={0,0.1,0.2,0.3,0.4,0.5,0.6,0.7,0.8,0.9,1}, yticklabels={0,0.1,0.2,0.3,0.4,0.5,0.6,0.7,0.8,0.9,1}},
  title={Wavelet Coherence Analysis\\Magnitude-Squared (R\^{}2) (0 to 1)\\Time Series: T to 0B60 x EXPORT-NET to GDP\\1363-1403 (41 years) - Annually, Ref\#: 18 \& 46}]
\edef\temp{\noexpand\addplot[matrix plot*, draw=mapped color, line width=0.25pt, mesh/cols=41, point meta=explicit] coordinates {\coordA};}\temp
\edef\temp{\noexpand\addplot[coi] coordinates {\coiA};}\temp
\end{axis}
\begin{axis}[wave, at={(106.5pt,171.75pt)}, anchor=south west,
  colormap name=hsvstep, point meta min=-3.14159, point meta max=3.14159,
  colorbar style={cbar, ytick={-3,-2,-1,0,1,2,3}, yticklabels={-3,-2,-1,0,1,2,3}},
  title={Phase Angle of Smoothed Wavelet Cross-Spectrum Coefficients (-$\pi$ to $\pi$)\\Time Series: T to 0B60 x EXPORT-NET to GDP\\1363-1403 (41 years) - Annually, Ref\#: 18 \& 46}]
\edef\temp{\noexpand\addplot[matrix plot*, draw=mapped color, line width=0.25pt, mesh/cols=41, point meta=explicit] coordinates {\coordB};}\temp
\edef\temp{\noexpand\addplot[coi] coordinates {\coiA};}\temp
\end{axis}
\end{tikzpicture}
\end{document}
